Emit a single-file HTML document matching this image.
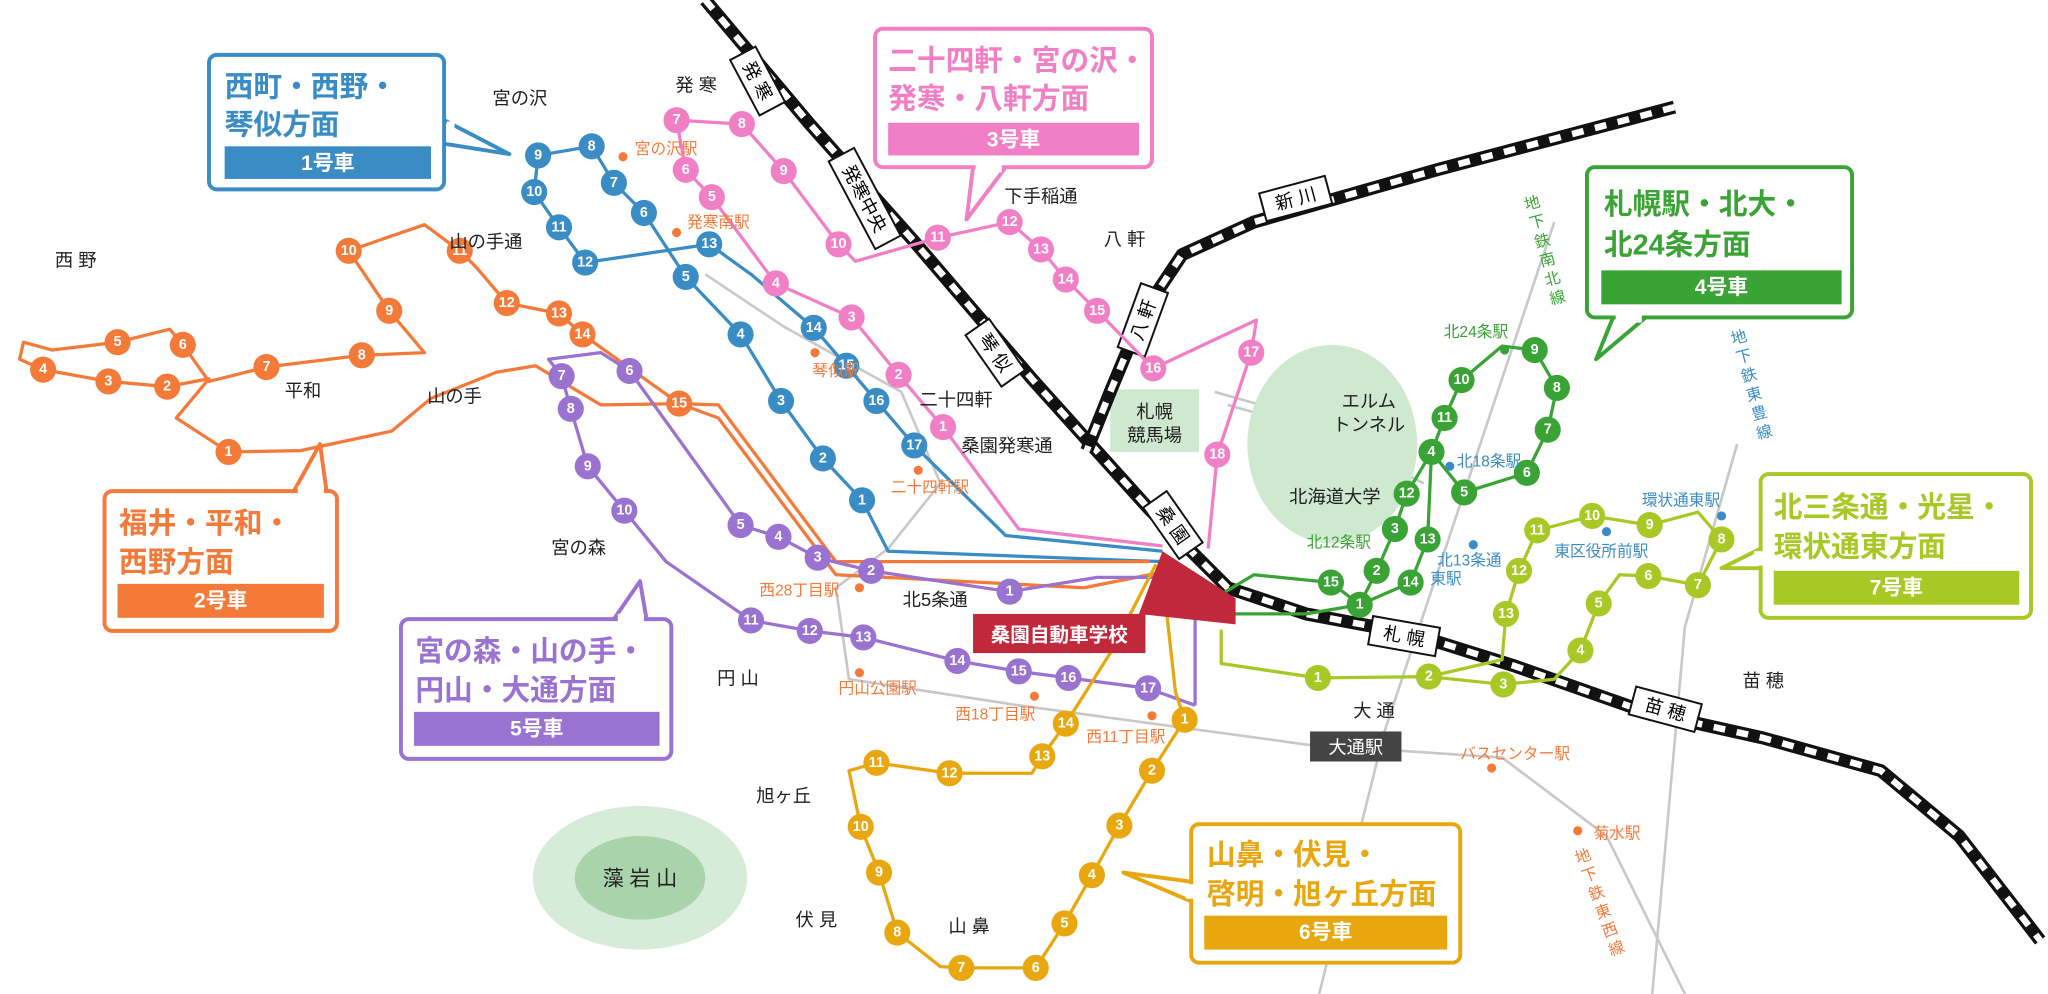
<!DOCTYPE html>
<html><head><meta charset="utf-8"><style>
html,body{margin:0;padding:0;background:#fff}
svg{display:block}
text{font-family:"Liberation Sans","Noto Sans CJK JP",sans-serif}
.n{font-size:11px;font-weight:bold;fill:#fff;text-anchor:middle;dominant-baseline:central}
.l{font-size:14px;fill:#222;text-anchor:middle}
.st{font-size:12px;text-anchor:middle}
.t{font-size:22px;font-weight:bold}
.bt{font-size:16px;font-weight:bold;fill:#fff;text-anchor:middle;dominant-baseline:central}
</style></head><body>
<svg width="2048" height="994" viewBox="0 0 1568 761" preserveAspectRatio="none" xmlns="http://www.w3.org/2000/svg">
<g stroke="#c8c8c8" stroke-width="2" fill="none">
<polyline points="1190,170 1130,350 1060,560 1010,761"/>
<polyline points="1330,340 1290,480 1265,761"/>
<polyline points="540,210 600,250 690,300 720,370 680,420 640,450 650,520 780,540 1000,570 1150,580 1230,640 1290,761"/>
<polyline points="930,300 1000,320 1080,360"/>
<polyline points="940,310 1010,330 1090,370"/>
</g>
<ellipse cx="1020" cy="340" rx="65" ry="76" fill="#cfe8d0"/>
<ellipse cx="490" cy="672" rx="82" ry="55" fill="#d7ecd8"/>
<ellipse cx="490" cy="672" rx="50" ry="32" fill="#a9d3ab"/>
<rect x="850" y="298" width="68" height="48" fill="#cfe8d0"/>
<g fill="none" stroke-linejoin="round">
<polyline stroke="#111" stroke-width="10" points="540,0 620,95 700,185 790,290 880,390 940,450 1000,470 1080,485 1160,510 1260,545 1350,565 1440,590 1500,640 1562,720"/>
<polyline stroke="#fff" stroke-width="5" stroke-dasharray="9,9" points="540,0 620,95 700,185 790,290 880,390 940,450 1000,470 1080,485 1160,510 1260,545 1350,565 1440,590 1500,640 1562,720"/>
<polyline stroke="#111" stroke-width="10" points="1282,82 1100,130 960,170 905,195 875,240 850,300 832,345"/>
<polyline stroke="#fff" stroke-width="5" stroke-dasharray="9,9" points="1282,82 1100,130 960,170 905,195 875,240 850,300 832,345"/>
</g>
<g font-size="14" text-anchor="middle">
<g transform="translate(580,62) rotate(62)"><rect x="-24" y="-11" width="48" height="22" fill="#fff" stroke="#111" stroke-width="1.5"/><text y="5">発 寒</text></g>
<g transform="translate(662,152) rotate(62)"><rect x="-38" y="-11" width="76" height="22" fill="#fff" stroke="#111" stroke-width="1.5"/><text y="5">発寒中央</text></g>
<g transform="translate(762,270) rotate(55)"><rect x="-24" y="-11" width="48" height="22" fill="#fff" stroke="#111" stroke-width="1.5"/><text y="5">琴 似</text></g>
<g transform="translate(898,402) rotate(55)"><rect x="-24" y="-11" width="48" height="22" fill="#fff" stroke="#111" stroke-width="1.5"/><text y="5">桑 園</text></g>
<g transform="translate(1075,487) rotate(10)"><rect x="-26" y="-11" width="52" height="22" fill="#fff" stroke="#111" stroke-width="1.5"/><text y="5">札 幌</text></g>
<g transform="translate(1275,543) rotate(15)"><rect x="-26" y="-11" width="52" height="22" fill="#fff" stroke="#111" stroke-width="1.5"/><text y="5">苗 穂</text></g>
<g transform="translate(992,152) rotate(-15)"><rect x="-26" y="-11" width="52" height="22" fill="#fff" stroke="#111" stroke-width="1.5"/><text y="5">新 川</text></g>
<g transform="translate(875,245) rotate(-70)"><rect x="-26" y="-11" width="52" height="22" fill="#fff" stroke="#111" stroke-width="1.5"/><text y="5">八 軒</text></g>
</g>
<g fill="none" stroke-width="2.5" stroke-linejoin="round">
<polyline stroke="#3a8cc4" points="890,430 680,422 660,383 630,351 598,307 567,256 525,212 493,163 470,140 453,112 412,119 409,147 428,174 448,201 543,187 575,210 623,251 648,280 671,307 700,341 770,410 890,422"/>
<polyline stroke="#f07fc6" points="890,418 780,405 722,327 688,287 652,243 594,217 545,151 525,130 518,92 568,95 600,131 642,187 655,200 718,182 773,170 797,191 816,214 840,238 883,282 962,245 958,270 932,348 925,420"/>
<polyline stroke="#f47a3a" points="890,438 830,450 640,440 550,320 520,309 446,256 428,240 388,232 365,205 352,192 325,172 267,192 298,238 325,270 277,272 204,281 160,292 140,264 130,252 90,262 40,268 18,262 15,275 33,283 83,292 128,296 160,290 135,320 175,346 230,345 300,330 330,305 380,285 410,280 460,310 520,309 550,310 640,430 880,430"/>
<polyline stroke="#9a72d0" points="915,540 915,442 840,442 773,453 700,442 667,437 626,427 596,411 567,402 482,284 460,270 420,275 430,288 437,313 450,357 478,391 510,430 575,475 620,483 661,488 733,506 780,514 818,519 879,527 915,540"/>
<polyline stroke="#e8a70f" points="885,432 850,500 816,554 798,579 790,592 727,592 671,584 650,590 659,633 673,668 687,714 720,740 736,741 793,741 815,707 836,670 857,632 882,590 907,551 900,530 890,440"/>
<polyline stroke="#3aa335" points="935,455 960,440 1019,446 1041,463 1054,437 1068,405 1077,378 1096,346 1106,320 1119,291 1150,265 1175,268 1192,297 1185,329 1169,362 1121,377 1096,346 1093,413 1080,446 1041,463 1000,470 940,470 935,455"/>
<polyline stroke="#a8c826" points="935,482 935,508 1009,519 1094,518 1151,524 1190,520 1210,498 1224,462 1240,440 1262,441 1300,448 1318,413 1300,392 1263,402 1219,395 1177,406 1163,437 1153,470 1150,505 1094,518"/>
</g>
<polygon points="890,422 946,458 946,478 872,470" fill="#c0283c"/>
<rect x="745" y="470" width="132" height="30" fill="#c0283c"/>
<text x="811" y="491" font-size="15" font-weight="bold" fill="#fff" text-anchor="middle">桑園自動車学校</text>
<g>
<g fill="#3a8cc4"><circle cx="412" cy="119" r="10"/><circle cx="453" cy="112" r="10"/><circle cx="470" cy="140" r="10"/><circle cx="493" cy="163" r="10"/><circle cx="543" cy="187" r="10"/><circle cx="525" cy="212" r="10"/><circle cx="567" cy="256" r="10"/><circle cx="598" cy="307" r="10"/><circle cx="630" cy="351" r="10"/><circle cx="660" cy="383" r="10"/><circle cx="409" cy="147" r="10"/><circle cx="428" cy="174" r="10"/><circle cx="448" cy="201" r="10"/><circle cx="623" cy="251" r="10"/><circle cx="648" cy="280" r="10"/><circle cx="671" cy="307" r="10"/><circle cx="700" cy="341" r="10"/></g>
<g class="n"><text x="412" y="119">9</text><text x="453" y="112">8</text><text x="470" y="140">7</text><text x="493" y="163">6</text><text x="543" y="187">13</text><text x="525" y="212">5</text><text x="567" y="256">4</text><text x="598" y="307">3</text><text x="630" y="351">2</text><text x="660" y="383">1</text><text x="409" y="147">10</text><text x="428" y="174">11</text><text x="448" y="201">12</text><text x="623" y="251">14</text><text x="648" y="280">15</text><text x="671" y="307">16</text><text x="700" y="341">17</text></g>
<g fill="#f07fc6"><circle cx="518" cy="92" r="10"/><circle cx="568" cy="95" r="10"/><circle cx="525" cy="130" r="10"/><circle cx="545" cy="151" r="10"/><circle cx="600" cy="131" r="10"/><circle cx="642" cy="187" r="10"/><circle cx="718" cy="182" r="10"/><circle cx="773" cy="170" r="10"/><circle cx="797" cy="191" r="10"/><circle cx="816" cy="214" r="10"/><circle cx="840" cy="238" r="10"/><circle cx="594" cy="217" r="10"/><circle cx="652" cy="243" r="10"/><circle cx="688" cy="287" r="10"/><circle cx="722" cy="327" r="10"/><circle cx="883" cy="282" r="10"/><circle cx="958" cy="270" r="10"/><circle cx="932" cy="348" r="10"/></g>
<g class="n"><text x="518" y="92">7</text><text x="568" y="95">8</text><text x="525" y="130">6</text><text x="545" y="151">5</text><text x="600" y="131">9</text><text x="642" y="187">10</text><text x="718" y="182">11</text><text x="773" y="170">12</text><text x="797" y="191">13</text><text x="816" y="214">14</text><text x="840" y="238">15</text><text x="594" y="217">4</text><text x="652" y="243">3</text><text x="688" y="287">2</text><text x="722" y="327">1</text><text x="883" y="282">16</text><text x="958" y="270">17</text><text x="932" y="348">18</text></g>
<g fill="#f47a3a"><circle cx="33" cy="283" r="10"/><circle cx="83" cy="292" r="10"/><circle cx="128" cy="296" r="10"/><circle cx="90" cy="262" r="10"/><circle cx="140" cy="264" r="10"/><circle cx="175" cy="346" r="10"/><circle cx="204" cy="281" r="10"/><circle cx="277" cy="272" r="10"/><circle cx="298" cy="238" r="10"/><circle cx="267" cy="192" r="10"/><circle cx="352" cy="192" r="10"/><circle cx="388" cy="232" r="10"/><circle cx="428" cy="240" r="10"/><circle cx="446" cy="256" r="10"/><circle cx="520" cy="309" r="10"/></g>
<g class="n"><text x="33" y="283">4</text><text x="83" y="292">3</text><text x="128" y="296">2</text><text x="90" y="262">5</text><text x="140" y="264">6</text><text x="175" y="346">1</text><text x="204" y="281">7</text><text x="277" y="272">8</text><text x="298" y="238">9</text><text x="267" y="192">10</text><text x="352" y="192">11</text><text x="388" y="232">12</text><text x="428" y="240">13</text><text x="446" y="256">14</text><text x="520" y="309">15</text></g>
<g fill="#9a72d0"><circle cx="430" cy="288" r="10"/><circle cx="437" cy="313" r="10"/><circle cx="450" cy="357" r="10"/><circle cx="478" cy="391" r="10"/><circle cx="482" cy="284" r="10"/><circle cx="567" cy="402" r="10"/><circle cx="596" cy="411" r="10"/><circle cx="626" cy="427" r="10"/><circle cx="667" cy="437" r="10"/><circle cx="773" cy="453" r="10"/><circle cx="575" cy="475" r="10"/><circle cx="620" cy="483" r="10"/><circle cx="661" cy="488" r="10"/><circle cx="733" cy="506" r="10"/><circle cx="780" cy="514" r="10"/><circle cx="818" cy="519" r="10"/><circle cx="879" cy="527" r="10"/></g>
<g class="n"><text x="430" y="288">7</text><text x="437" y="313">8</text><text x="450" y="357">9</text><text x="478" y="391">10</text><text x="482" y="284">6</text><text x="567" y="402">5</text><text x="596" y="411">4</text><text x="626" y="427">3</text><text x="667" y="437">2</text><text x="773" y="453">1</text><text x="575" y="475">11</text><text x="620" y="483">12</text><text x="661" y="488">13</text><text x="733" y="506">14</text><text x="780" y="514">15</text><text x="818" y="519">16</text><text x="879" y="527">17</text></g>
<g fill="#e8a70f"><circle cx="907" cy="551" r="10"/><circle cx="882" cy="590" r="10"/><circle cx="857" cy="632" r="10"/><circle cx="836" cy="670" r="10"/><circle cx="815" cy="707" r="10"/><circle cx="793" cy="741" r="10"/><circle cx="736" cy="741" r="10"/><circle cx="687" cy="714" r="10"/><circle cx="673" cy="668" r="10"/><circle cx="659" cy="633" r="10"/><circle cx="671" cy="584" r="10"/><circle cx="727" cy="592" r="10"/><circle cx="798" cy="579" r="10"/><circle cx="816" cy="554" r="10"/></g>
<g class="n"><text x="907" y="551">1</text><text x="882" y="590">2</text><text x="857" y="632">3</text><text x="836" y="670">4</text><text x="815" y="707">5</text><text x="793" y="741">6</text><text x="736" y="741">7</text><text x="687" y="714">8</text><text x="673" y="668">9</text><text x="659" y="633">10</text><text x="671" y="584">11</text><text x="727" y="592">12</text><text x="798" y="579">13</text><text x="816" y="554">14</text></g>
<g fill="#3aa335"><circle cx="1019" cy="446" r="10"/><circle cx="1041" cy="463" r="10"/><circle cx="1054" cy="437" r="10"/><circle cx="1068" cy="405" r="10"/><circle cx="1080" cy="446" r="10"/><circle cx="1093" cy="413" r="10"/><circle cx="1077" cy="378" r="10"/><circle cx="1096" cy="346" r="10"/><circle cx="1106" cy="320" r="10"/><circle cx="1119" cy="291" r="10"/><circle cx="1175" cy="268" r="10"/><circle cx="1192" cy="297" r="10"/><circle cx="1185" cy="329" r="10"/><circle cx="1169" cy="362" r="10"/><circle cx="1121" cy="377" r="10"/></g>
<g class="n"><text x="1019" y="446">15</text><text x="1041" y="463">1</text><text x="1054" y="437">2</text><text x="1068" y="405">3</text><text x="1080" y="446">14</text><text x="1093" y="413">13</text><text x="1077" y="378">12</text><text x="1096" y="346">4</text><text x="1106" y="320">11</text><text x="1119" y="291">10</text><text x="1175" y="268">9</text><text x="1192" y="297">8</text><text x="1185" y="329">7</text><text x="1169" y="362">6</text><text x="1121" y="377">5</text></g>
<g fill="#a8c826"><circle cx="1009" cy="519" r="10"/><circle cx="1094" cy="518" r="10"/><circle cx="1151" cy="524" r="10"/><circle cx="1210" cy="498" r="10"/><circle cx="1224" cy="462" r="10"/><circle cx="1262" cy="441" r="10"/><circle cx="1300" cy="448" r="10"/><circle cx="1318" cy="413" r="10"/><circle cx="1263" cy="402" r="10"/><circle cx="1219" cy="395" r="10"/><circle cx="1177" cy="406" r="10"/><circle cx="1163" cy="437" r="10"/><circle cx="1153" cy="470" r="10"/></g>
<g class="n"><text x="1009" y="519">1</text><text x="1094" y="518">2</text><text x="1151" y="524">3</text><text x="1210" y="498">4</text><text x="1224" y="462">5</text><text x="1262" y="441">6</text><text x="1300" y="448">7</text><text x="1318" y="413">8</text><text x="1263" y="402">9</text><text x="1219" y="395">10</text><text x="1177" y="406">11</text><text x="1163" y="437">12</text><text x="1153" y="470">13</text></g>
</g>
<g fill="#f47a3a"><circle cx="477" cy="120" r="3.5"/><circle cx="518" cy="178" r="3.5"/><circle cx="624" cy="270" r="3.5"/><circle cx="703" cy="360" r="3.5"/><circle cx="658" cy="450" r="3.5"/><circle cx="658" cy="515" r="3.5"/><circle cx="792" cy="533" r="3.5"/><circle cx="882" cy="548" r="3.5"/><circle cx="1142" cy="588" r="3.5"/><circle cx="1208" cy="636" r="3.5"/></g>
<g fill="#3a8cc4"><circle cx="1110" cy="357" r="3.5"/><circle cx="1128" cy="417" r="3.5"/><circle cx="1230" cy="407" r="3.5"/><circle cx="1318" cy="395" r="3.5"/></g>
<circle cx="1152" cy="268" r="3.5" fill="#3aa335"/>
<g class="st" fill="#f47a3a">
<text x="510" y="118">宮の沢駅</text><text x="550" y="174">発寒南駅</text><text x="640" y="288">琴似駅</text><text x="712" y="377">二十四軒駅</text><text x="612" y="456">西28丁目駅</text><text x="672" y="531">円山公園駅</text><text x="762" y="551">西18丁目駅</text><text x="862" y="568">西11丁目駅</text><text x="1160" y="581">バスセンター駅</text><text x="1238" y="642">菊水駅</text>
<text transform="rotate(-20 1225 700)"><tspan x="1228" y="658">地</tspan><tspan x="1228" dy="15">下</tspan><tspan x="1228" dy="15">鉄</tspan><tspan x="1228" dy="15">東</tspan><tspan x="1228" dy="15">西</tspan><tspan x="1228" dy="15">線</tspan></text>
</g>
<g class="st" fill="#3a8cc4">
<text x="1140" y="357">北18条駅</text><text x="1125" y="433">北13条通</text><text x="1107" y="447">東駅</text><text x="1226" y="426">東区役所前駅</text><text x="1287" y="387">環状通東駅</text>
<text transform="rotate(-15 1340 310)"><tspan x="1345" y="262">地</tspan><tspan x="1345" dy="15">下</tspan><tspan x="1345" dy="15">鉄</tspan><tspan x="1345" dy="15">東</tspan><tspan x="1345" dy="15">豊</tspan><tspan x="1345" dy="15">線</tspan></text>
</g>
<g class="st" fill="#3aa335">
<text x="1130" y="258">北24条駅</text><text x="1025" y="419">北12条駅</text>
<text transform="rotate(-15 1185 200)"><tspan x="1185" y="158">地</tspan><tspan x="1185" dy="15">下</tspan><tspan x="1185" dy="15">鉄</tspan><tspan x="1185" dy="15">南</tspan><tspan x="1185" dy="15">北</tspan><tspan x="1185" dy="15">線</tspan></text>
</g>
<rect x="1003" y="560" width="70" height="23" fill="#444"/>
<text x="1038" y="577" font-size="14" fill="#fff" text-anchor="middle">大通駅</text>
<g class="l">
<text x="398" y="80">宮の沢</text><text x="533" y="70">発 寒</text><text x="58" y="204">西 野</text><text x="372" y="190">山の手通</text><text x="232" y="304">平和</text><text x="348" y="308">山の手</text><text x="797" y="155">下手稲通</text><text x="861" y="188">八 軒</text><text x="732" y="311">二十四軒</text><text x="771" y="346">桑園発寒通</text><text x="443" y="424">宮の森</text><text x="716" y="464">北5条通</text><text x="565" y="524">円 山</text><text x="1052" y="549">大 通</text><text x="1350" y="526">苗 穂</text><text x="600" y="614">旭ヶ丘</text><text x="625" y="709">伏 見</text><text x="742" y="714">山 鼻</text>
<text x="884" y="320">札幌</text><text x="884" y="338">競馬場</text>
<text x="1048" y="312">エルム</text><text x="1048" y="330">トンネル</text><text x="1022" y="385">北海道大学</text>
<text x="490" y="678" font-size="16">藻 岩 山</text>
</g>
<g stroke-width="3" stroke-linejoin="round">
<polygon points="340,92 390,118 340,110" fill="#fff" stroke="#3a8cc4"/>
<rect x="160" y="42" width="180" height="103" rx="6" fill="#fff" stroke="#3a8cc4"/>
<polygon points="745,128 740,168 770,128" fill="#fff" stroke="#f07fc6"/>
<rect x="670" y="22" width="212" height="106" rx="6" fill="#fff" stroke="#f07fc6"/>
<polygon points="1235,243 1222,275 1260,243" fill="#fff" stroke="#3aa335"/>
<rect x="1215" y="128" width="203" height="115" rx="6" fill="#fff" stroke="#3aa335"/>
<polygon points="1348,420 1318,435 1348,435" fill="#fff" stroke="#a8c826"/>
<rect x="1348" y="363" width="207" height="110" rx="6" fill="#fff" stroke="#a8c826"/>
<polygon points="225,376 245,340 250,376" fill="#fff" stroke="#f47a3a"/>
<rect x="80" y="376" width="178" height="107" rx="6" fill="#fff" stroke="#f47a3a"/>
<polygon points="470,474 490,445 495,474" fill="#fff" stroke="#9a72d0"/>
<rect x="307" y="474" width="207" height="107" rx="6" fill="#fff" stroke="#9a72d0"/>
<polygon points="912,675 860,668 912,690" fill="#fff" stroke="#e8a70f"/>
<rect x="912" y="631" width="206" height="106" rx="6" fill="#fff" stroke="#e8a70f"/>
</g>
<g stroke="none">
<rect x="342" y="93" width="6" height="16" fill="#fff"/>
<rect x="747" y="124" width="20" height="8" fill="#fff"/>
<rect x="1237" y="239" width="20" height="8" fill="#fff"/>
<rect x="1343" y="422" width="8" height="11" fill="#fff"/>
<rect x="228" y="372" width="20" height="8" fill="#fff"/>
<rect x="473" y="470" width="20" height="8" fill="#fff"/>
<rect x="908" y="677" width="8" height="11" fill="#fff"/>
</g>
<g class="t">
<text x="172" y="74" fill="#3a8cc4">西町・西野・</text><text x="172" y="103" fill="#3a8cc4">琴似方面</text>
<text x="680" y="54" fill="#f07fc6">二十四軒・宮の沢・</text><text x="680" y="83" fill="#f07fc6">発寒・八軒方面</text>
<text x="1228" y="164" fill="#3aa335">札幌駅・北大・</text><text x="1228" y="195" fill="#3aa335">北24条方面</text>
<text x="1358" y="396" fill="#a8c826">北三条通・光星・</text><text x="1358" y="426" fill="#a8c826">環状通東方面</text>
<text x="91" y="408" fill="#f47a3a">福井・平和・</text><text x="91" y="438" fill="#f47a3a">西野方面</text>
<text x="318" y="506" fill="#9a72d0">宮の森・山の手・</text><text x="318" y="536" fill="#9a72d0">円山・大通方面</text>
<text x="924" y="662" fill="#e8a70f">山鼻・伏見・</text><text x="924" y="692" fill="#e8a70f">啓明・旭ヶ丘方面</text>
</g>
<rect x="172" y="112" width="158" height="25" fill="#3a8cc4"/><text class="bt" x="251" y="125">1号車</text>
<rect x="680" y="94" width="192" height="25" fill="#f07fc6"/><text class="bt" x="776" y="107">3号車</text>
<rect x="1226" y="207" width="184" height="26" fill="#3aa335"/><text class="bt" x="1318" y="220">4号車</text>
<rect x="1358" y="437" width="188" height="26" fill="#a8c826"/><text class="bt" x="1452" y="450">7号車</text>
<rect x="90" y="447" width="158" height="26" fill="#f47a3a"/><text class="bt" x="169" y="460">2号車</text>
<rect x="317" y="545" width="188" height="26" fill="#9a72d0"/><text class="bt" x="411" y="558">5号車</text>
<rect x="922" y="701" width="186" height="26" fill="#e8a70f"/><text class="bt" x="1015" y="714">6号車</text>
</svg>
</body></html>
